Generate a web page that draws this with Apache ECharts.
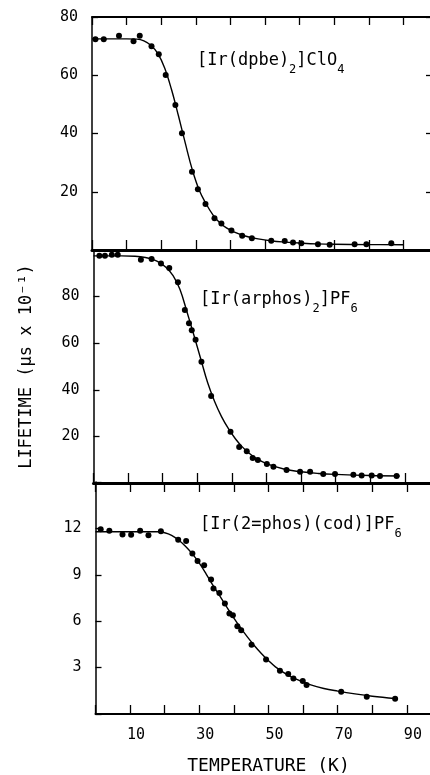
<!DOCTYPE html>
<html><head><meta charset="utf-8">
<script src="https://cdn.jsdelivr.net/npm/echarts@6/dist/echarts.min.js"></script>
<style>html,body{margin:0;padding:0;background:#fff}#c{width:430px;height:775px}</style>
</head><body><div id="c"></div>
<script>
// ---- data ----
const dpbeT = [1.0,3.4,7.8,12.0,13.8,17.2,19.3,21.3,24.1,26.0,28.9,30.6,32.8,35.4,37.4,40.3,43.4,46.2,51.8,55.7,58.1,60.5,65.3,68.7,75.9,79.3,86.5];
const dpbeV = [72.4,72.4,73.6,71.7,73.6,70.0,67.2,60.1,49.8,40.1,26.9,20.9,15.8,10.9,9.1,6.7,4.9,4.0,3.2,3.1,2.6,2.3,2.0,1.8,2.0,2.0,2.3];
const dpbeFitT = [0,5,10,13,15,17,19,21,23,25,27,29,31,33,35,37,39,41,44,48,52,56,60,65,70,80,90];
const dpbeFitV = [72.5,72.5,72.5,72.4,71.8,70.3,67.5,62.5,55,46,36.5,27.5,20.5,15.8,12,9.3,7.5,6.2,4.9,3.8,3.1,2.7,2.4,2.1,1.95,1.85,1.8];

const arphosT = [1.7,3.3,5.3,7.0,13.7,16.8,19.5,21.9,24.4,26.4,27.6,28.4,29.5,31.2,34.0,39.6,42.1,44.3,46.0,47.5,50.1,52.0,55.8,59.7,62.6,66.4,69.8,75.1,77.5,80.4,82.8,87.6];
const arphosV = [97.5,97.5,98.0,98.0,95.8,96.1,94.2,92.3,86.2,74.2,68.6,65.6,61.5,52.0,37.3,22.0,15.5,13.6,10.7,9.9,8.2,7.0,5.6,4.8,4.8,3.9,3.9,3.5,3.2,3.2,3.0,3.0];
const arphosFitT = [0,8,12,15,17,19,21,23,25,27,29,31,33,35,37,39,41,43,45,47,50,55,60,65,70,80,88.5];
const arphosFitV = [97.5,97.5,97.3,96.8,96.0,94.7,92.5,89,83,73.5,63.5,53.2,43,35,28.5,23.3,19,15.5,12.8,10.6,8.3,6,4.8,4.1,3.7,3.2,3.0];

const codT = [1.5,4.0,7.8,10.3,12.9,15.3,18.9,23.9,26.2,28.0,29.5,31.4,33.4,34.1,35.8,37.4,38.7,39.7,41.0,42.1,45.1,49.3,53.3,55.7,57.2,59.9,61.0,71.0,78.4,86.6];
const codV = [11.94,11.85,11.61,11.59,11.85,11.55,11.82,11.27,11.18,10.37,9.89,9.61,8.69,8.11,7.83,7.14,6.50,6.39,5.68,5.42,4.48,3.53,2.79,2.58,2.30,2.13,1.87,1.44,1.12,0.99];
const codFitT = [0,10,18,20,22,24,26,28,30,32,34,36,38,40,42,44,46,48,50,52,55,58,62,66,70,75,80,86.6];
const codFitV = [11.78,11.78,11.78,11.72,11.55,11.25,10.85,10.35,9.75,9.05,8.3,7.6,6.9,6.2,5.55,4.95,4.4,3.9,3.45,3.05,2.6,2.25,1.9,1.65,1.48,1.3,1.15,1.0];

const xTickLabels = [10,30,50,70,90];
const yTicksTop = [20,40,60,80];
const yTicksMid = [20,40,60,80];
const yTicksBot = [3,6,9,12];
const panelLabels = ['[Ir(dpbe){s|2}]ClO{s|4}', '[Ir(arphos){s|2}]PF{s|6}', '[Ir(2=phos)(cod)]PF{s|6}'];
const xTitle = 'TEMPERATURE (K)';
const yTitle = 'LIFETIME (µs x 10⁻¹)';

// ---- chart ----
const FONT = 'DejaVu Sans Mono';
const K = '#000';
const pairs = (t, v) => t.map((x, i) => [x, v[i]]);
const chart = echarts.init(document.getElementById('c'), null, {renderer: 'canvas'});

const xBase = {type: 'value', min: 0, max: 100, interval: 10, splitLine: {show: false}};
const tick = (len, w) => ({show: true, inside: true, length: len, lineStyle: {color: K, width: w || 1.3}});
const lineAx = (w) => ({show: true, onZero: false, lineStyle: {color: K, width: w}});
const noLine = {show: false, onZero: false};
const yLabel = (list) => ({show: true, color: K, fontFamily: FONT, fontSize: 15, margin: 14,
  formatter: v => list.includes(v) ? String(v) : ''});
const dot = {color: K, opacity: 1};

const option = {
  backgroundColor: '#fff',
  animation: false,
  grid: [
    {left: 92, top: 17, width: 346, height: 233, outerBoundsMode: 'none', containLabel: false},
    {left: 93.5, top: 250, width: 346, height: 233, outerBoundsMode: 'none', containLabel: false},
    {left: 95.5, top: 482, width: 346, height: 232, outerBoundsMode: 'none', containLabel: false}
  ],
  xAxis: [
    Object.assign({}, xBase, {gridIndex: 0, position: 'bottom', axisLine: lineAx(3), axisTick: tick(10), axisLabel: {show: false}}),
    Object.assign({}, xBase, {gridIndex: 0, position: 'top', axisLine: lineAx(1.8), axisTick: tick(8), axisLabel: {show: false}}),
    Object.assign({}, xBase, {gridIndex: 1, position: 'bottom', axisLine: lineAx(3), axisTick: tick(10), axisLabel: {show: false}}),
    Object.assign({}, xBase, {gridIndex: 2, position: 'top', axisLine: noLine, axisTick: tick(10), axisLabel: {show: false}}),
    Object.assign({}, xBase, {gridIndex: 2, position: 'bottom', axisLine: lineAx(2), axisTick: tick(9),
      axisLabel: {show: true, color: K, fontFamily: FONT, fontSize: 15, margin: 14, padding: [0, 0, 0, 12],
        formatter: v => xTickLabels.includes(v) ? String(v) : ''},
      name: xTitle, nameLocation: 'middle', nameGap: 43,
      nameTextStyle: {color: K, fontFamily: FONT, fontSize: 18}})
  ],
  yAxis: [
    {type: 'value', gridIndex: 0, min: 0, max: 80, interval: 20, position: 'left', splitLine: {show: false},
      axisLine: lineAx(1.5), axisTick: tick(6), axisLabel: yLabel(yTicksTop)},
    {type: 'value', gridIndex: 0, min: 0, max: 80, interval: 20, position: 'right', splitLine: {show: false},
      axisLine: noLine, axisTick: tick(12), axisLabel: {show: false}},
    {type: 'value', gridIndex: 1, min: 0, max: 100, interval: 20, position: 'left', splitLine: {show: false},
      axisLine: lineAx(1.5), axisTick: tick(6), axisLabel: yLabel(yTicksMid),
      name: yTitle, nameLocation: 'middle', nameGap: 58,
      nameTextStyle: {color: K, fontFamily: FONT, fontSize: 17}},
    {type: 'value', gridIndex: 2, min: 0, max: 15, interval: 3, position: 'left', splitLine: {show: false},
      axisLine: lineAx(1.5), axisTick: tick(6), axisLabel: yLabel(yTicksBot)}
  ],
  series: [
    {type: 'line', xAxisIndex: 0, yAxisIndex: 0, data: pairs(dpbeFitT, dpbeFitV), smooth: 0.4,
      showSymbol: false, lineStyle: {color: K, width: 1.4}},
    {type: 'scatter', xAxisIndex: 0, yAxisIndex: 0, data: pairs(dpbeT, dpbeV), symbolSize: 6, itemStyle: dot},
    {type: 'line', xAxisIndex: 2, yAxisIndex: 2, data: pairs(arphosFitT, arphosFitV), smooth: 0.4,
      showSymbol: false, lineStyle: {color: K, width: 1.4}},
    {type: 'scatter', xAxisIndex: 2, yAxisIndex: 2, data: pairs(arphosT, arphosV), symbolSize: 6, itemStyle: dot},
    {type: 'line', xAxisIndex: 4, yAxisIndex: 3, data: pairs(codFitT, codFitV), smooth: 0.4,
      showSymbol: false, lineStyle: {color: K, width: 1.4}},
    {type: 'scatter', xAxisIndex: 4, yAxisIndex: 3, data: pairs(codT, codV), symbolSize: 6, itemStyle: dot}
  ],
  graphic: [
    [197, 46], [200, 285], [200, 510]
  ].map((p, i) => ({
    type: 'text', x: p[0], y: p[1], silent: true,
    style: {text: panelLabels[i], fill: K, fontFamily: FONT, fontSize: 17,
      verticalAlign: 'top', align: 'left',
      rich: {s: {fontFamily: FONT, fontSize: 12, fill: K, padding: [18, 0, 0, 0]}}}
  }))
};
chart.setOption(option);
</script></body></html>
